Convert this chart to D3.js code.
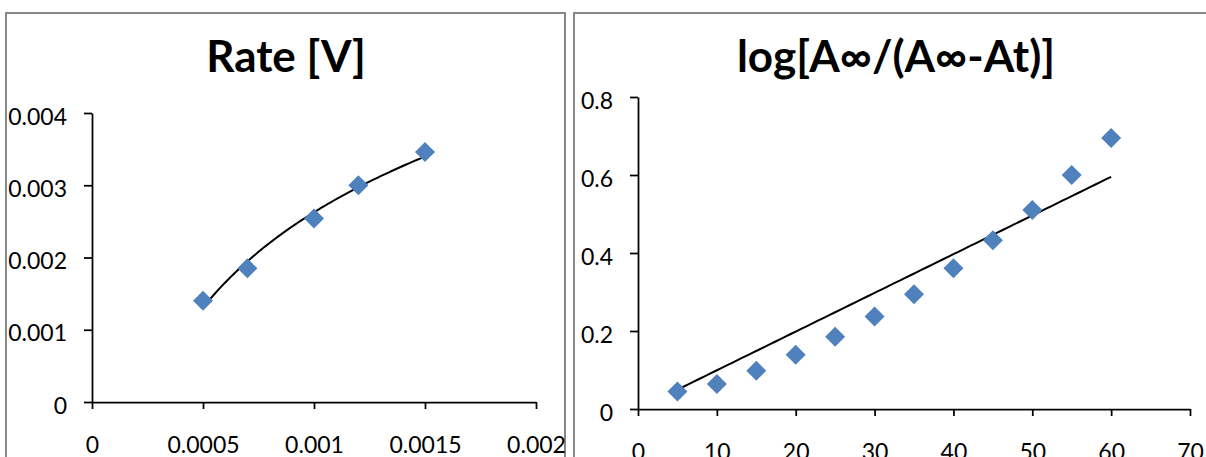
<!DOCTYPE html>
<html>
<head>
<meta charset="utf-8">
<script src="https://cdn.jsdelivr.net/npm/d3@7"></script>
<style>
  html, body { margin: 0; padding: 0; background: #fff; }
  svg { display: block; }
  .axis path, .axis line { stroke: #000; stroke-width: 1.75; }
  .axis text { font-family: Lato, "Open Sans", sans-serif; font-size: 23px; fill: #000; }
  .title { font-family: Lato, "Open Sans", sans-serif; font-weight: bold; font-size: 44px; fill: #000; }
</style>
</head>
<body>
<svg id="chart" width="1206" height="457"></svg>
<script>
// Left panel: rate vs. concentration
const rateConc = [0.0005, 0.0007, 0.001, 0.0012, 0.0015];
const rateValues = [0.0014, 0.00185, 0.00254, 0.0030, 0.00346];
const rateXTicks = [0, 0.0005, 0.001, 0.0015, 0.002];
const rateXLabels = ["0", "0.0005", "0.001", "0.0015", "0.002"];
const rateYTicks = [0, 0.001, 0.002, 0.003, 0.004];
const rateYLabels = ["0", "0.001", "0.002", "0.003", "0.004"];

// Right panel: log[A∞/(A∞-At)] vs. time
const times = [5, 10, 15, 20, 25, 30, 35, 40, 45, 50, 55, 60];
const logValues = [0.045, 0.064, 0.098, 0.139, 0.185, 0.237, 0.294, 0.361, 0.433, 0.510, 0.600, 0.695];
const timeTicks = [0, 10, 20, 30, 40, 50, 60, 70];
const timeLabels = ["0", "10", "20", "30", "40", "50", "60", "70"];
const logYTicks = [0, 0.2, 0.4, 0.6, 0.8];
const logYLabels = ["0", "0.2", "0.4", "0.6", "0.8"];

const svg = d3.select("#chart");
const markerColor = "#4F81BD";
const diamond = "M0,-10L10,0L0,10L-10,0Z";

// Least-squares logarithmic trend: y = a + b ln(x)
function logarithmicFit(xs, ys) {
  const lx = xs.map(Math.log);
  const mx = d3.mean(lx), my = d3.mean(ys);
  const sxy = d3.sum(lx, (v, i) => (v - mx) * (ys[i] - my));
  const sxx = d3.sum(lx, v => (v - mx) * (v - mx));
  const b = sxy / sxx, a = my - b * mx;
  return x => a + b * Math.log(x);
}

// Least-squares linear trend forced through the origin: y = m x
function originLinearFit(xs, ys) {
  const m = d3.sum(xs, (v, i) => v * ys[i]) / d3.sum(xs, v => v * v);
  return x => m * x;
}

function panel(cfg) {
  // frame
  svg.append("rect")
    .attr("x", cfg.frame[0]).attr("y", cfg.frame[1])
    .attr("width", cfg.frame[2]).attr("height", cfg.frame[3])
    .attr("fill", "#fff").attr("stroke", "#878787").attr("stroke-width", 2);

  svg.append("text").attr("class", "title")
    .attr("x", cfg.titleX).attr("y", 72)
    .attr("text-anchor", "middle")
    .text(cfg.title);

  const x = d3.scaleLinear().domain(cfg.xDomain).range(cfg.xRange);
  const y = d3.scaleLinear().domain(cfg.yDomain).range(cfg.yRange);

  const gx = svg.append("g").attr("class", "axis")
    .attr("transform", `translate(0,${cfg.yRange[0]})`)
    .call(d3.axisBottom(x).tickValues(cfg.xTicks)
      .tickFormat((d, i) => cfg.xLabels[i]).tickSize(7).tickSizeOuter(0));
  gx.selectAll("text").attr("y", 34.7).attr("dy", "0.71em");

  const gy = svg.append("g").attr("class", "axis")
    .attr("transform", `translate(${cfg.xRange[0]},0)`)
    .call(d3.axisLeft(y).tickValues(cfg.yTicks)
      .tickFormat((d, i) => cfg.yLabels[i]).tickSize(8).tickSizeOuter(0).tickPadding(17));
  gy.selectAll("text").attr("dy", "0.48em");

  // trendline
  const fit = cfg.fit(cfg.xs, cfg.ys);
  const [x0, x1] = d3.extent(cfg.xs);
  const samples = d3.range(0, 81).map(i => x0 + (x1 - x0) * i / 80);
  svg.append("path")
    .attr("fill", "none").attr("stroke", "#000").attr("stroke-width", 2)
    .attr("d", d3.line().x(d => x(d)).y(d => y(fit(d)))(samples));

  // markers
  svg.append("g").selectAll("path").data(cfg.xs).join("path")
    .attr("d", diamond)
    .attr("fill", markerColor)
    .attr("transform", (d, i) => `translate(${x(d)},${y(cfg.ys[i])})`);
}

panel({
  frame: [6, 13, 559, 500],
  title: "Rate [V]", titleX: 286,
  xDomain: [0, 0.002], xRange: [92, 536],
  yDomain: [0, 0.004], yRange: [402, 113],
  xTicks: rateXTicks, xLabels: rateXLabels,
  yTicks: rateYTicks, yLabels: rateYLabels,
  xs: rateConc, ys: rateValues, fit: logarithmicFit
});

panel({
  frame: [574, 13, 660, 500],
  title: "log[A∞/(A∞-At)]", titleX: 896,
  xDomain: [0, 70], xRange: [638, 1190],
  yDomain: [0, 0.8], yRange: [409, 97],
  xTicks: timeTicks, xLabels: timeLabels,
  yTicks: logYTicks, yLabels: logYLabels,
  xs: times, ys: logValues, fit: originLinearFit
});
</script>
</body>
</html>
